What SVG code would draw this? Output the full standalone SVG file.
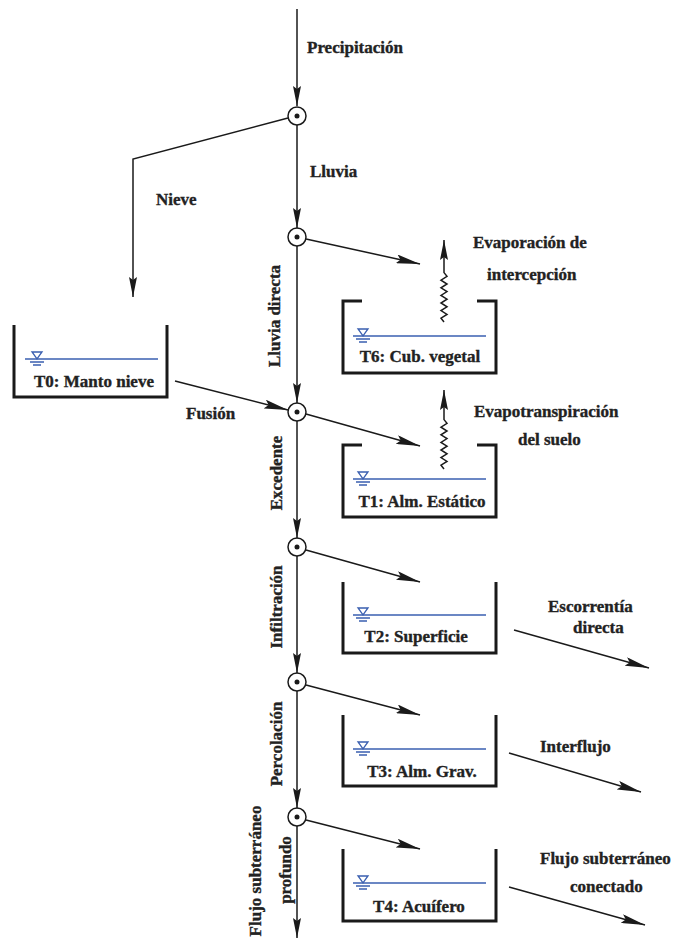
<svg xmlns="http://www.w3.org/2000/svg" width="692" height="939" viewBox="0 0 692 939">
<style>
.ln{fill:none;stroke:#1a1a1a;stroke-width:1.5}
.box{fill:none;stroke:#1a1a1a;stroke-width:3}
.wl{fill:none;stroke:#3a5fb0;stroke-width:1.6}
.nd{fill:#fff;stroke:#1a1a1a;stroke-width:1.5}
.dot{fill:#1a1a1a}
text{font-family:"Liberation Serif","Times New Roman",serif;font-weight:bold;font-size:17px;fill:#222;stroke:#222;stroke-width:0.35}
.m{text-anchor:middle}
</style>
<defs>
<marker id="ah" viewBox="0 0 20 8" refX="20" refY="4" markerWidth="20" markerHeight="8" markerUnits="userSpaceOnUse" orient="auto">
<path d="M0,0 L20,4 L0,8 L3,4 z" fill="#1a1a1a"/>
</marker>
<marker id="ah2" viewBox="0 0 24 9" refX="24" refY="4.5" markerWidth="24" markerHeight="9" markerUnits="userSpaceOnUse" orient="auto">
<path d="M0,0 L24,4.5 L0,9 L4,4.5 z" fill="#1a1a1a"/>
</marker>
<g id="ws">
<path d="M-5,-7 H5 L0,0 z" fill="#fff" stroke="#3a5fb0" stroke-width="1.3"/>
<path d="M-7,3 H7 M-4,6 H4" stroke="#3a5fb0" stroke-width="1.5"/>
</g>
</defs>

<g id="connectors">
<path class="ln" d="M297,9 V106" marker-end="url(#ah)"/>
<path class="ln" d="M288,118 L133,159 V297" marker-end="url(#ah)"/>
<path class="ln" d="M297,125 V228" marker-end="url(#ah)"/>
<path class="ln" d="M297,246 V403" marker-end="url(#ah)"/>
<path class="ln" d="M297,421 V538" marker-end="url(#ah)"/>
<path class="ln" d="M297,556 V673" marker-end="url(#ah)"/>
<path class="ln" d="M297,691 V808" marker-end="url(#ah)"/>
<path class="ln" d="M297,826 V938" marker-end="url(#ah)"/>
<path class="ln" d="M306,239 L420,264" marker-end="url(#ah2)"/>
<path class="ln" d="M175,381 L288,410" marker-end="url(#ah2)"/>
<path class="ln" d="M306,414 L420,446" marker-end="url(#ah2)"/>
<path class="ln" d="M306,550 L420,582" marker-end="url(#ah2)"/>
<path class="ln" d="M306,685 L420,715" marker-end="url(#ah2)"/>
<path class="ln" d="M306,820 L420,849" marker-end="url(#ah2)"/>
<path class="ln" d="M514,630 L649,668" marker-end="url(#ah2)"/>
<path class="ln" d="M509,753 L641,792" marker-end="url(#ah2)"/>
<path class="ln" d="M509,887 L645,925" marker-end="url(#ah2)"/>
<path class="ln" d="M444,322 l-3,-3.8 l6,-3.8 l-6,-3.8 l6,-3.8 l-6,-3.8 l6,-3.8 l-6,-3.8 l6,-3.8 l-6,-3.8 l6,-3.8 l-6,-3.8 l6,-3.8 l-3,-3.8 V240" marker-end="url(#ah)"/>
<path class="ln" d="M444,469 l-3,-3.8 l6,-3.8 l-6,-3.8 l6,-3.8 l-6,-3.8 l6,-3.8 l-6,-3.8 l6,-3.8 l-6,-3.8 l6,-3.8 l-6,-3.8 l6,-3.8 l-3,-3.8 V390" marker-end="url(#ah)"/>
</g>

<g id="n1"><circle class="nd" cx="297" cy="116" r="9"/><circle class="dot" cx="297" cy="116" r="2.5"/></g>
<g id="n2"><circle class="nd" cx="297" cy="237" r="9"/><circle class="dot" cx="297" cy="237" r="2.5"/></g>
<g id="n3"><circle class="nd" cx="297" cy="412" r="9"/><circle class="dot" cx="297" cy="412" r="2.5"/></g>
<g id="n4"><circle class="nd" cx="297" cy="547" r="9"/><circle class="dot" cx="297" cy="547" r="2.5"/></g>
<g id="n5"><circle class="nd" cx="297" cy="682" r="9"/><circle class="dot" cx="297" cy="682" r="2.5"/></g>
<g id="n6"><circle class="nd" cx="297" cy="817" r="9"/><circle class="dot" cx="297" cy="817" r="2.5"/></g>

<g id="T0">
<path class="box" d="M14,325 V397 H167 V325"/>
<path class="wl" d="M25,359 H158"/>
<use href="#ws" x="37" y="359"/>
<text class="m" x="94" y="387">T0: Manto nieve</text>
</g>
<g id="T6">
<path class="box" d="M362,301 H343 V373 H496 V301 H477"/>
<path class="wl" d="M353,336 H486"/>
<use href="#ws" x="363" y="336"/>
<text class="m" x="420" y="362">T6: Cub. vegetal</text>
</g>
<g id="T1">
<path class="box" d="M362,445 H343 V517 H496 V445 H477"/>
<path class="wl" d="M353,479 H486"/>
<use href="#ws" x="363" y="479"/>
<text class="m" x="422" y="507">T1: Alm. Estático</text>
</g>
<g id="T2">
<path class="box" d="M343,582 V653 H496 V582"/>
<path class="wl" d="M353,615 H486"/>
<use href="#ws" x="363" y="615"/>
<text class="m" x="416" y="642">T2: Superficie</text>
</g>
<g id="T3">
<path class="box" d="M343,715 V786 H496 V715"/>
<path class="wl" d="M353,749 H486"/>
<use href="#ws" x="363" y="749"/>
<text class="m" x="422" y="777">T3: Alm. Grav.</text>
</g>
<g id="T4">
<path class="box" d="M343,849 V921 H496 V849"/>
<path class="wl" d="M353,883 H486"/>
<use href="#ws" x="363" y="883"/>
<text class="m" x="419" y="912">T4: Acuífero</text>
</g>

<g id="labels">
<text x="307" y="53">Precipitación</text>
<text x="310" y="177">Lluvia</text>
<text x="156" y="205">Nieve</text>
<text x="473" y="248">Evaporación de</text>
<text x="487" y="280">intercepción</text>
<text x="474" y="417">Evapotranspiración</text>
<text x="518" y="445">del suelo</text>
<text x="186" y="419">Fusión</text>
<text x="548" y="612">Escorrentía</text>
<text x="573" y="633">directa</text>
<text x="540" y="752">Interflujo</text>
<text x="540" y="864">Flujo subterráneo</text>
<text x="570" y="892">conectado</text>
<text class="m" transform="translate(280,316) rotate(-90)">Lluvia directa</text>
<text class="m" transform="translate(282,473) rotate(-90)">Excedente</text>
<text class="m" transform="translate(282,607) rotate(-90)">Infiltración</text>
<text class="m" transform="translate(282,744) rotate(-90)">Percolación</text>
<text class="m" transform="translate(261,871) rotate(-90)">Flujo subterráneo</text>
<text class="m" transform="translate(291,870) rotate(-90)">profundo</text>
</g>
</svg>
